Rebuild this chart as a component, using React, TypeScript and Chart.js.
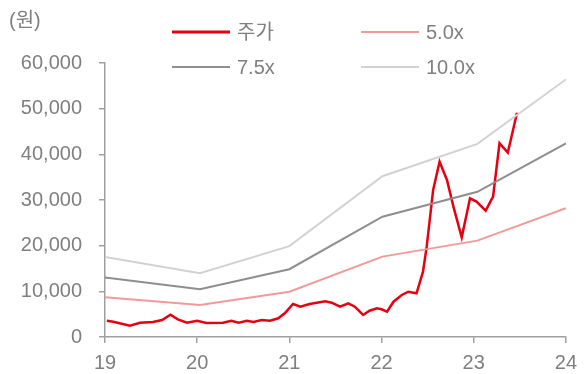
import React, { useEffect, useRef } from "react";
import { Chart, registerables } from "chart.js";

Chart.register(...registerables);

const FONT = "'Liberation Sans', 'Noto Sans CJK KR', Arial, sans-serif";

const priceX = [19.02, 19.09, 19.27, 19.38, 19.52, 19.62, 19.71, 19.79, 19.89, 20.0, 20.1, 20.28, 20.37, 20.45, 20.54, 20.61, 20.7, 20.79, 20.88, 20.95, 21.04, 21.12, 21.22, 21.39, 21.46, 21.55, 21.64, 21.71, 21.8, 21.87, 21.95, 22.0, 22.06, 22.13, 22.22, 22.29, 22.38, 22.45, 22.49, 22.56, 22.63, 22.71, 22.78, 22.87, 22.96, 23.03, 23.13, 23.21, 23.28, 23.37, 23.47];
const priceY = [3570, 3350, 2470, 3130, 3290, 3720, 4890, 3870, 3130, 3570, 3050, 3130, 3570, 3130, 3570, 3290, 3720, 3570, 4090, 5190, 7230, 6640, 7230, 7820, 7510, 6640, 7380, 6640, 4820, 5760, 6280, 6070, 5540, 7730, 9200, 9920, 9570, 14300, 19780, 32190, 38390, 34380, 28540, 21830, 30370, 29640, 27670, 30730, 42420, 40370, 49120];

const multX = [19, 20.03, 21, 22.01, 23.04, 24];
const mult5 = [8700, 7000, 9920, 17600, 21100, 28200];
const mult75 = [13050, 10450, 14850, 26350, 31800, 42400];
const mult10 = [17500, 13950, 19900, 35200, 42300, 56400];

const seriesLabels = ["주가", "5.0x", "7.5x", "10.0x"];
const seriesColors = ["#e60012", "#f29a9a", "#8e8e8e", "#d2d2d2"];
const unitLabel = "(원)";
const yTicks = [0, 10000, 20000, 30000, 40000, 50000, 60000];
const xTicks = [19, 20, 21, 22, 23, 24];

const toPts = (xs: number[], ys: number[]) => xs.map((x, i) => ({ x, y: ys[i] }));

const AXIS = "#a0a0a0";
const TEXT = "#7f7f7f";

export default function App() {
  const ref = useRef<HTMLCanvasElement>(null);
  useEffect(() => {
    if (!ref.current) return;
    const widths = [3, 2, 2, 2];
    const legendPlugin = {
      id: "customLegend",
      afterDraw(chart: any) {
        const ctx = chart.ctx;
        ctx.save();
        ctx.font = `20px ${FONT}`;
        ctx.fillStyle = TEXT;
        ctx.textBaseline = "middle";
        ctx.textAlign = "left";
        ctx.fillText(unitLabel, 9, 21);
        const pos = [
          [172, 32],
          [361, 32],
          [172, 67],
          [361, 67],
        ];
        seriesLabels.forEach((lab, i) => {
          const [x, y] = pos[i];
          ctx.strokeStyle = seriesColors[i];
          ctx.lineWidth = widths[i];
          ctx.beginPath();
          ctx.moveTo(x, y);
          ctx.lineTo(x + 58, y);
          ctx.stroke();
          ctx.fillStyle = TEXT;
          ctx.fillText(lab, x + 65, y + 1);
        });
        ctx.restore();
      },
    };
    const chart = new Chart(ref.current, {
      type: "line",
      data: {
        datasets: [
          { label: seriesLabels[3], data: toPts(multX, mult10), borderColor: seriesColors[3], borderWidth: 2 },
          { label: seriesLabels[2], data: toPts(multX, mult75), borderColor: seriesColors[2], borderWidth: 2 },
          { label: seriesLabels[1], data: toPts(multX, mult5), borderColor: seriesColors[1], borderWidth: 2 },
          { label: seriesLabels[0], data: toPts(priceX, priceY), borderColor: seriesColors[0], borderWidth: 2.5 },
        ],
      },
      options: {
        animation: false,
        responsive: false,
        maintainAspectRatio: false,
        elements: { point: { radius: 0 }, line: { tension: 0 } },
        layout: { padding: { left: 0, right: 19, top: 63, bottom: 0 } },
        plugins: { legend: { display: false }, tooltip: { enabled: false } },
        scales: {
          x: {
            type: "linear",
            min: 19,
            max: 24,
            afterBuildTicks: (axis: any) => {
              axis.ticks = xTicks.map((v) => ({ value: v }));
            },
            afterFit: (axis: any) => {
              axis.height = 37;
            },
            grid: { drawOnChartArea: false, drawTicks: true, tickLength: 6, color: AXIS, lineWidth: 1.5 },
            border: { display: true, color: AXIS, width: 1.5 },
            ticks: {
              padding: 8,
              color: TEXT,
              font: { family: FONT, size: 20 },
              maxRotation: 0,
              callback: (v: any) => String(v),
            },
          },
          y: {
            min: 0,
            max: 60000,
            afterBuildTicks: (axis: any) => {
              axis.ticks = yTicks.map((v) => ({ value: v }));
            },
            afterFit: (axis: any) => {
              axis.width = 105;
            },
            grid: { drawOnChartArea: false, drawTicks: true, tickLength: 6, color: AXIS, lineWidth: 1.5 },
            border: { display: true, color: AXIS, width: 1.5 },
            ticks: {
              padding: 17,
              color: TEXT,
              font: { family: FONT, size: 20 },
              callback: (v: any) => Number(v).toLocaleString("en-US"),
            },
          },
        },
      } as any,
      plugins: [legendPlugin],
    });
    return () => chart.destroy();
  }, []);
  return (
    <div style={{ position: "fixed", left: 0, top: 0, width: 585, height: 374, background: "#fff" }}>
      <canvas ref={ref} width={585} height={374} style={{ width: 585, height: 374, display: "block" }} />
    </div>
  );
}
